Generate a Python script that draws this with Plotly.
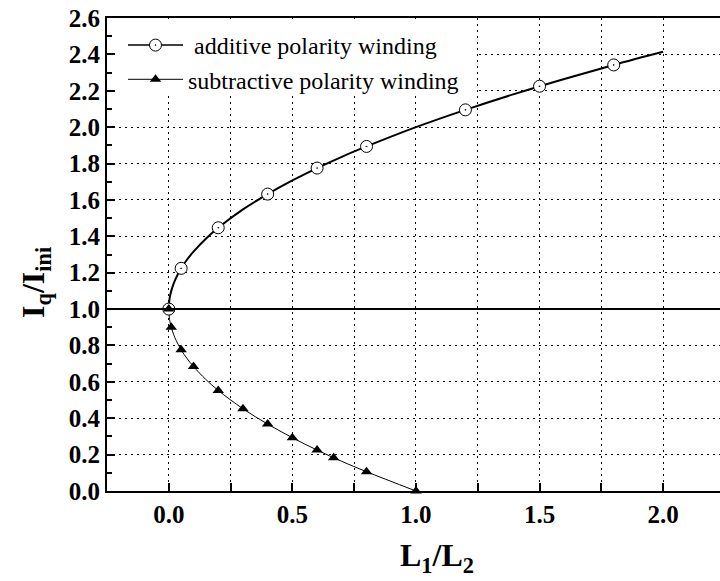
import plotly.graph_objects as go

# Marker data
add_mx = [0.0, 0.05, 0.2, 0.4, 0.6, 0.8, 1.2, 1.5, 1.8]
add_my = [1.0, 1.224, 1.447, 1.632, 1.775, 1.894, 2.095, 2.225, 2.342]

sub_mx = [0.0, 0.01, 0.05, 0.1, 0.2, 0.3, 0.4, 0.5, 0.6, 0.667, 0.8, 1.0]
sub_my = [1.0, 0.90, 0.776, 0.684, 0.553, 0.452, 0.368, 0.293, 0.225, 0.183, 0.106, 0.0]

# Curve data
add_lx = [0.0, 0.002, 0.005, 0.01, 0.02, 0.03, 0.05, 0.075, 0.1, 0.15, 0.2, 0.3, 0.4, 0.5,
          0.6, 0.7, 0.8, 1.0, 1.2, 1.4, 1.6, 1.8, 2.0]
add_ly = [1.0, 1.045, 1.071, 1.1, 1.141, 1.173, 1.224, 1.274, 1.316, 1.387, 1.447, 1.548,
          1.632, 1.707, 1.775, 1.837, 1.894, 2.0, 2.095, 2.183, 2.265, 2.342, 2.414]

sub_lx = [0.0, 0.002, 0.005, 0.01, 0.02, 0.03, 0.05, 0.075, 0.1, 0.15, 0.2, 0.3, 0.4, 0.5,
          0.6, 0.7, 0.8, 1.0]
sub_ly = [1.0, 0.955, 0.929, 0.9, 0.859, 0.827, 0.776, 0.726, 0.684, 0.613, 0.553, 0.452,
          0.368, 0.293, 0.225, 0.163, 0.106, 0.0]

x_ticks = [0.0, 0.5, 1.0, 1.5, 2.0]
x_tick_labels = ["0.0", "0.5", "1.0", "1.5", "2.0"]
y_ticks = [0.0, 0.2, 0.4, 0.6, 0.8, 1.0, 1.2, 1.4, 1.6, 1.8, 2.0, 2.2, 2.4, 2.6]
y_tick_labels = ["%.1f" % v for v in y_ticks]

series_names = ["\u00a0additive polarity winding", "subtractive polarity winding"]
x_title = "L<sub>1</sub>/L<sub>2</sub>"
y_title = "I<sub>q</sub>/I<sub>ini</sub>"

FONT = "Liberation Serif, Times New Roman, serif"
GRIDDASH = "2px,4px"

W, H = 720, 581
ML, MR, MT, MB = 107, 0, 18, 90
PW, PH = W - ML - MR, H - MT - MB

fig = go.Figure()

# curves
fig.add_trace(go.Scatter(x=add_lx, y=add_ly, mode="lines", line=dict(color="black", width=2, shape="spline"),
                         showlegend=False, hoverinfo="skip"))
fig.add_trace(go.Scatter(x=sub_lx, y=sub_ly, mode="lines", line=dict(color="black", width=1, shape="spline"),
                         showlegend=False, hoverinfo="skip"))

# markers
fig.add_trace(go.Scatter(x=add_mx, y=add_my, mode="markers",
                         marker=dict(symbol="circle-dot", size=12, color="white",
                                     line=dict(color="black", width=1)),
                         showlegend=False))
fig.add_trace(go.Scatter(x=sub_mx, y=sub_my, mode="markers",
                         marker=dict(symbol="triangle-up", size=10, color="black"),
                         showlegend=False, cliponaxis=False))

# legend entries
fig.add_trace(go.Scatter(x=[None], y=[None], mode="lines+markers", name=series_names[0],
                         line=dict(color="black", width=1.5),
                         marker=dict(symbol="circle-dot", size=12, color="white",
                                     line=dict(color="black", width=1))))
fig.add_trace(go.Scatter(x=[None], y=[None], mode="lines+markers", name=series_names[1],
                         line=dict(color="black", width=1),
                         marker=dict(symbol="triangle-up", size=10, color="black")))

# white legend backdrop hiding the grid (no data lies in this corner)
fig.add_shape(type="rect", xref="paper", yref="paper",
              x0=(118 - ML) / PW, x1=(476 - ML) / PW,
              y0=(H - MB - 95) / PH, y1=(H - MB - 19) / PH,
              fillcolor="white", line=dict(width=0), layer="above")

# reference line at 1.0
fig.add_shape(type="line", xref="paper", yref="y", x0=0, x1=1, y0=1.0, y1=1.0,
              line=dict(color="black", width=2))

# axis titles as annotations
fig.add_annotation(text=y_title, xref="paper", yref="paper",
                   x=(35 - ML) / PW, y=(H - MB - 283) / PH,
                   xanchor="center", yanchor="middle", textangle=-90, showarrow=False,
                   font=dict(family=FONT, size=32, weight="bold", color="black"))
fig.add_annotation(text=x_title, xref="paper", yref="paper",
                   x=(437 - ML) / PW, y=-(557 - (H - MB)) / PH,
                   xanchor="center", yanchor="middle", showarrow=False,
                   font=dict(family=FONT, size=32, weight="bold", color="black"))

fig.update_layout(
    width=W, height=H,
    margin=dict(l=ML, r=MR, t=MT, b=MB),
    paper_bgcolor="white", plot_bgcolor="white",
    font=dict(family=FONT, color="black"),
    legend=dict(x=(123 - ML) / PW, y=(H - MB - 23) / PH, xanchor="left", yanchor="top",
                bgcolor="rgba(0,0,0,0)", borderwidth=0,
                font=dict(family=FONT, size=24, color="black"),
                tracegroupgap=0, itemwidth=55),
    xaxis=dict(range=[-0.25, 2.23], tickvals=x_ticks, ticktext=x_tick_labels,
               ticks="inside", ticklen=8, tickwidth=2, tickcolor="black",
               showline=True, linecolor="black", linewidth=2, mirror=True,
               showgrid=True, gridcolor="black", griddash=GRIDDASH, gridwidth=1,
               minor=dict(dtick=0.25, tick0=0, ticks="inside", ticklen=8, tickwidth=2, tickcolor="black",
                          showgrid=True, gridcolor="black", griddash=GRIDDASH, gridwidth=1),
               zeroline=False,
               tickfont=dict(family=FONT, size=25, weight="bold", color="black")),
    yaxis=dict(range=[0, 2.6], tickvals=y_ticks, ticktext=y_tick_labels,
               ticks="inside", ticklen=8, tickwidth=2, tickcolor="black",
               showline=True, linecolor="black", linewidth=2, mirror=False,
               showgrid=True, gridcolor="black", griddash=GRIDDASH, gridwidth=1,
               minor=dict(dtick=0.1, tick0=0, ticks="inside", ticklen=5, tickwidth=1.5, tickcolor="black",
                          showgrid=False),
               zeroline=False,
               tickfont=dict(family=FONT, size=25, weight="bold", color="black")),
)

fig.write_html("out.html")
